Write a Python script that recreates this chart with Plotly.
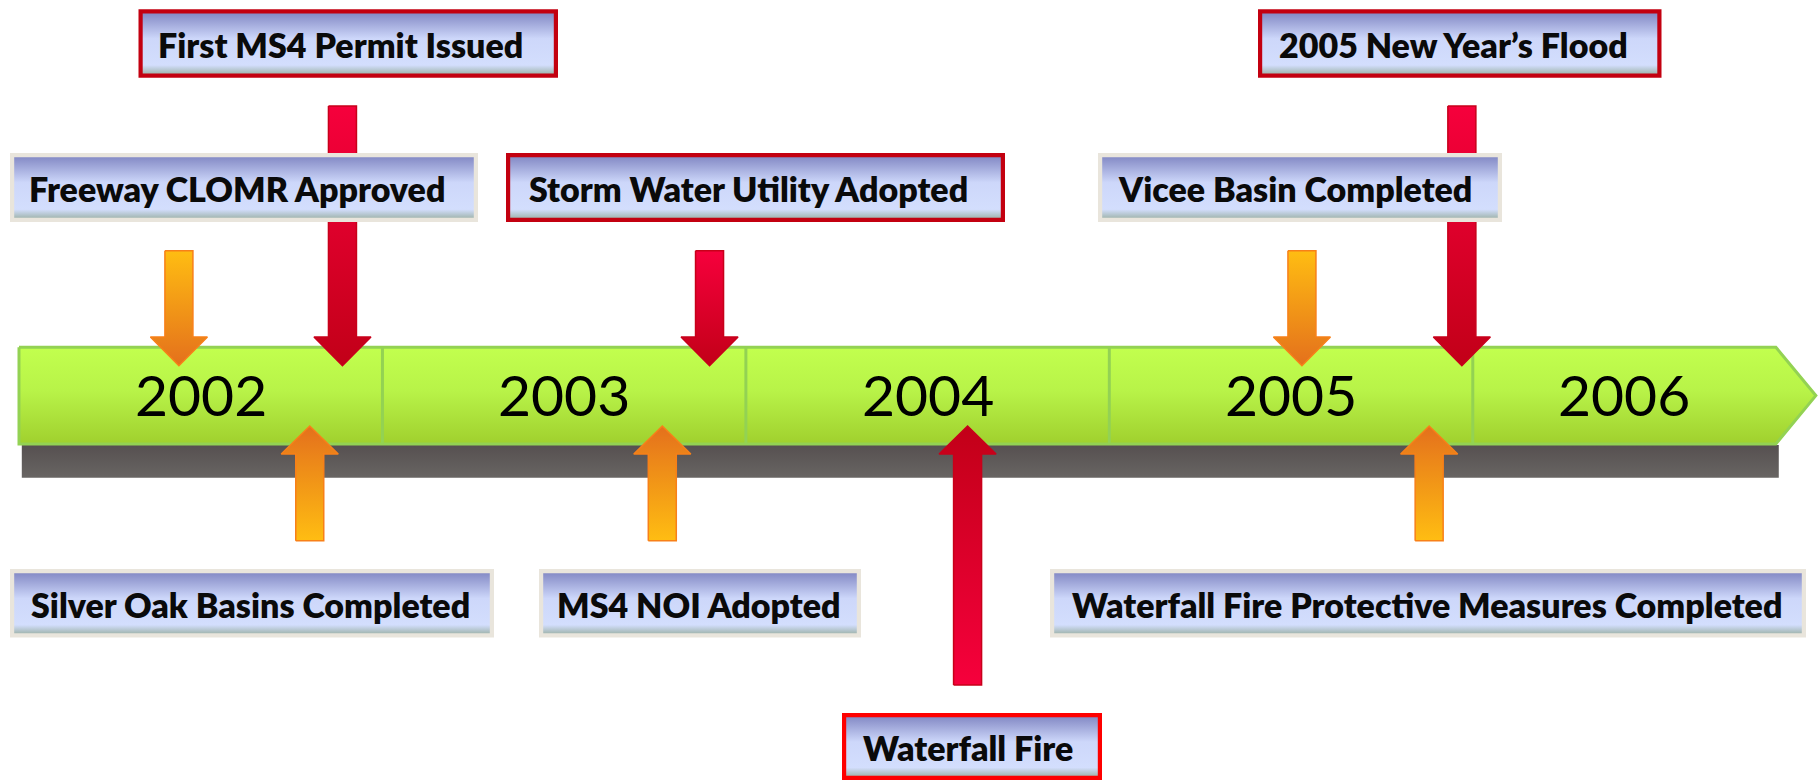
import plotly.graph_objects as go

# ---------------- data ----------------
years = [2002, 2003, 2004, 2005, 2006]
events = [
    "Freeway CLOMR Approved",
    "First MS4 Permit Issued",
    "Silver Oak Basins Completed",
    "MS4 NOI Adopted",
    "Storm Water Utility Adopted",
    "Waterfall Fire",
    "Vicee Basin Completed",
    "Waterfall Fire Protective Measures Completed",
    "2005 New Year’s Flood",
]
event_dates = [2002.44, 2002.89, 2002.80, 2003.77, 2003.90, 2004.61, 2005.53, 2005.88, 2005.97]
event_major = [False, True, False, False, True, True, False, False, True]
event_side = ["above", "above", "below", "below", "above", "below", "above", "below", "above"]

# ---------------- layout / style (pixels) ----------------
W, H = 1818, 780
PPY = 363.44                      # pixels per year on the timeline
X_LEFT = 2002 - 19.0 / PPY        # year at the left edge of the canvas
X_RIGHT = X_LEFT + W / PPY
BAR_END = 2006.834                # end of the straight part of the bar
BAR_TIP = 2006.944
BAR_TOP, BAR_BOT = 347.2, 444.0
SHADOW = (2002 + 2.8 / PPY, 2006.842, 445, 477.7)

# label placement: arrow tail y, box (x0, x1, y0, y1), text centre x, border style
placement = {
    "Freeway CLOMR Approved": (250.7, (10, 478, 153, 222), 236.5, "beige"),
    "First MS4 Permit Issued": (106, (138.5, 558, 9.3, 77.7), 340.5, "dark"),
    "Silver Oak Basins Completed": (540.7, (10, 494, 569, 637.5), 250.5, "beige"),
    "MS4 NOI Adopted": (540.7, (539, 861, 569, 637.5), 699, "beige"),
    "Storm Water Utility Adopted": (250.7, (506, 1005, 153, 222), 748, "dark"),
    "Waterfall Fire": (685, (842, 1102, 713, 780), 967.5, "bright"),
    "Vicee Basin Completed": (250.7, (1098, 1502, 153, 222), 1295, "beige"),
    "Waterfall Fire Protective Measures Completed": (540.7, (1050, 1806, 569, 637.5), 1427, "beige"),
    "2005 New Year’s Flood": (106, (1258, 1661.5, 9.3, 77.7), 1453, "dark"),
}
border_colors = {"beige": "#e9e5dc", "dark": "#c30010", "bright": "#fe0000"}
BORDER = 4.2

SHAFT_HW, HEAD_HW = 14.0, 28.5
DOWN_HEAD_BASE, DOWN_TIP = 337.0, 365.7
UP_HEAD_BASE, UP_TIP = 454.0, 426.0

FONT = "Lato, 'Open Sans', sans-serif"


def px2x(px):
    return X_LEFT + px / PPY


fig = go.Figure()


def poly(xs, ys, colorscale, gtype, start, stop, line_color=None, line_width=0):
    fig.add_trace(go.Scatter(
        x=xs + [xs[0]], y=ys + [ys[0]], mode="lines", fill="toself",
        fillgradient=dict(type=gtype, colorscale=colorscale, start=start, stop=stop),
        line=dict(color=line_color or "rgba(0,0,0,0)", width=line_width),
        hoverinfo="skip", showlegend=False,
    ))


# shadow under the bar
sx0, sx1, sy0, sy1 = SHADOW
poly([sx0, sx1, sx1, sx0], [sy0, sy0, sy1, sy1],
     [[0, "#565050"], [1, "#686563"]], "vertical", sy0, sy1)

# green timeline bar
poly([years[0], BAR_END, BAR_TIP, BAR_END, years[0]],
     [BAR_TOP, BAR_TOP, (BAR_TOP + BAR_BOT) / 2, BAR_BOT, BAR_BOT],
     [[0, "#c2ff4e"], [0.45, "#b8f348"], [1, "#a0d02e"]], "vertical", BAR_TOP, BAR_BOT,
     line_color="#93d253", line_width=3)

# year dividers
for y in years[1:]:
    fig.add_trace(go.Scatter(x=[y, y], y=[BAR_TOP, BAR_BOT], mode="lines",
                             line=dict(color="#93d253", width=3),
                             hoverinfo="skip", showlegend=False))

# arrows
for name, date, major, side in zip(events, event_dates, event_major, event_side):
    tail = placement[name][0]
    sw, hw = SHAFT_HW / PPY, HEAD_HW / PPY
    if major:
        tail_c, head_c, edge = "#f6003c", "#c20018", "#c8001a"
    else:
        tail_c, head_c, edge = "#ffbd12", "#e4701c", "#f88018"
    if side == "above":
        base, tip = DOWN_HEAD_BASE, DOWN_TIP
        cs = [[0, tail_c], [1, head_c]]
        g0, g1 = tail, tip
    else:
        base, tip = UP_HEAD_BASE, UP_TIP
        cs = [[0, head_c], [1, tail_c]]
        g0, g1 = tip, tail
    xs = [date - sw, date + sw, date + sw, date + hw, date, date - hw, date - sw]
    ys = [tail, tail, base, base, tip, base, base]
    poly(xs, ys, cs, "vertical", g0, g1, line_color=edge, line_width=1.5)

# label boxes
box_scale = [[0, "#858bc6"], [0.42, "#cdd7fa"], [0.86, "#d3defd"], [1, "#a3b7b2"]]
annotations = []
for name in events:
    _, (x0, x1, y0, y1), tx, style = placement[name]
    X0, X1 = px2x(x0), px2x(x1)
    poly([X0, X1, X1, X0], [y0, y0, y1, y1], [[0, border_colors[style]], [1, border_colors[style]]],
         "vertical", y0, y1)
    ix0, ix1 = px2x(x0 + BORDER), px2x(x1 - BORDER)
    iy0, iy1 = y0 + BORDER, y1 - BORDER
    poly([ix0, ix1, ix1, ix0], [iy0, iy0, iy1, iy1], box_scale, "vertical", iy0, iy1)
    annotations.append(dict(x=px2x(tx), y=(y0 + y1) / 2 + 1, xref="x", yref="y", text=name,
                            showarrow=False, xanchor="center", yanchor="middle",
                            font=dict(family=FONT, size=34, color="#0a0a0a", weight=800)))

# year labels
edges = years + [BAR_END]
for i, y in enumerate(years):
    annotations.append(dict(x=(edges[i] + edges[i + 1]) / 2, y=394, xref="x", yref="y",
                            text=str(y), showarrow=False, xanchor="center", yanchor="middle",
                            font=dict(family=FONT, size=57, color="#000000")))

fig.update_layout(
    width=W, height=H, autosize=False,
    margin=dict(l=0, r=0, t=0, b=0, pad=0),
    paper_bgcolor="white", plot_bgcolor="white",
    xaxis=dict(range=[X_LEFT, X_RIGHT], visible=False, fixedrange=True),
    yaxis=dict(range=[H, 0], visible=False, fixedrange=True),
    annotations=annotations,
    showlegend=False,
)

fig.write_html("out.html", config={"displayModeBar": False, "staticPlot": True},
               post_script="document.body.style.margin='0';document.body.style.overflow='hidden';")
